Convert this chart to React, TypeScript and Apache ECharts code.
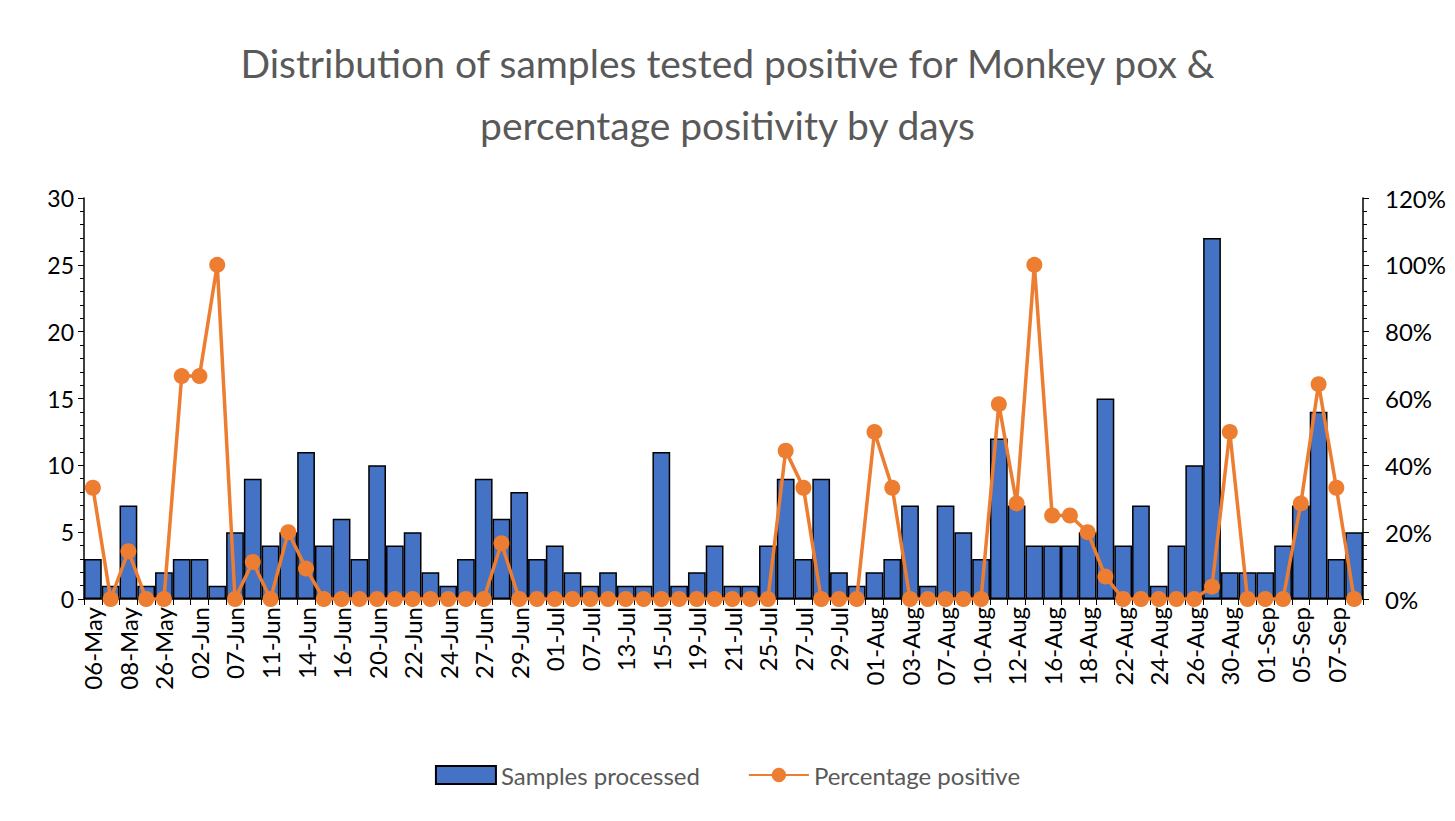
import React, { useEffect, useRef } from "react";
import * as echarts from "echarts";

const categories = [
  "06-May", "07-May", "08-May", "24-May", "26-May", "31-May", "02-Jun", "03-Jun",
  "07-Jun", "09-Jun", "11-Jun", "13-Jun", "14-Jun", "15-Jun", "16-Jun", "17-Jun",
  "20-Jun", "21-Jun", "22-Jun", "23-Jun", "24-Jun", "25-Jun", "27-Jun", "28-Jun",
  "29-Jun", "30-Jun", "01-Jul", "05-Jul", "07-Jul", "11-Jul", "13-Jul", "14-Jul",
  "15-Jul", "18-Jul", "19-Jul", "20-Jul", "21-Jul", "22-Jul", "25-Jul", "26-Jul",
  "27-Jul", "28-Jul", "29-Jul", "30-Jul", "01-Aug", "02-Aug", "03-Aug", "04-Aug",
  "07-Aug", "08-Aug", "10-Aug", "11-Aug", "12-Aug", "15-Aug", "16-Aug", "17-Aug",
  "18-Aug", "19-Aug", "22-Aug", "23-Aug", "24-Aug", "25-Aug", "26-Aug", "29-Aug",
  "30-Aug", "31-Aug", "01-Sep", "02-Sep", "05-Sep", "06-Sep", "07-Sep", "08-Sep",
];

const samplesProcessed = [
  3, 1, 7, 1, 2, 3, 3, 1, 5, 9, 4, 5, 11, 4, 6, 3,
  10, 4, 5, 2, 1, 3, 9, 6, 8, 3, 4, 2, 1, 2, 1, 1,
  11, 1, 2, 4, 1, 1, 4, 9, 3, 9, 2, 1, 2, 3, 7, 1,
  7, 5, 3, 12, 7, 4, 4, 4, 5, 15, 4, 7, 1, 4, 10, 27,
  2, 2, 2, 4, 7, 14, 3, 5,
];

const percentagePositive = [
  33.3, 0, 14.3, 0, 0, 66.7, 66.7, 100, 0, 11.1, 0, 20, 9.1, 0, 0, 0,
  0, 0, 0, 0, 0, 0, 0, 16.7, 0, 0, 0, 0, 0, 0, 0, 0,
  0, 0, 0, 0, 0, 0, 0, 44.4, 33.3, 0, 0, 0, 50, 33.3, 0, 0,
  0, 0, 0, 58.3, 28.6, 100, 25, 25, 20, 6.7, 0, 0, 0, 0, 0, 3.7,
  50, 0, 0, 0, 28.6, 64.3, 33.3, 0,
];

const FONT = "Lato, 'Open Sans', sans-serif";

export default function App() {
  const ref = useRef<HTMLDivElement>(null);

  useEffect(() => {
    document.body.style.margin = "0";
    if (!ref.current) return;
    const chart = echarts.init(ref.current, undefined, { renderer: "svg" });
    chart.setOption({
      animation: false,
      backgroundColor: "#ffffff",
      textStyle: { fontFamily: FONT },
      title: {
        text: "Distribution of samples tested positive for Monkey pox &\npercentage positivity by days",
        left: "center",
        top: 27,
        textStyle: {
          fontFamily: FONT,
          fontSize: 39,
          fontWeight: "normal",
          color: "#595959",
          lineHeight: 62,
        },
      },
      legend: {
        top: 758,
        left: "center",
        itemGap: 48,
        itemWidth: 60,
        itemHeight: 18,
        textStyle: { fontFamily: FONT, fontSize: 24, color: "#595959" },
        data: [
          { name: "Samples processed", icon: "rect" },
          { name: "Percentage positive" },
        ],
      },
      grid: { left: 84, right: 92, top: 198, bottom: 222, containLabel: false },
      xAxis: {
        type: "category",
        data: categories,
        boundaryGap: true,
        axisLine: { lineStyle: { color: "#000", width: 1.5 } },
        axisTick: { show: true, interval: 0, length: 6, lineStyle: { color: "#000" } },
        axisLabel: {
          interval: 1,
          rotate: 90,
          fontFamily: FONT,
          fontSize: 24,
          color: "#000",
          margin: 8,
        },
      },
      yAxis: [
        {
          type: "value",
          min: 0,
          max: 30,
          interval: 5,
          splitLine: { show: false },
          axisLine: { show: true, lineStyle: { color: "#000", width: 1.5 } },
          axisTick: { show: true, length: 6, lineStyle: { color: "#000" } },
          minorTick: { show: true, splitNumber: 5, length: 4, lineStyle: { color: "#000" } },
          axisLabel: { fontFamily: FONT, fontSize: 23, color: "#000", margin: 10 },
        },
        {
          type: "value",
          min: 0,
          max: 120,
          interval: 20,
          position: "right",
          splitLine: { show: false },
          axisLine: { show: true, lineStyle: { color: "#000", width: 1.5 } },
          axisTick: { show: true, length: 6, lineStyle: { color: "#000" } },
          minorTick: { show: true, splitNumber: 5, length: 4, lineStyle: { color: "#000" } },
          axisLabel: {
            fontFamily: FONT,
            fontSize: 24,
            color: "#000",
            margin: 22,
            formatter: "{value}%",
          },
        },
      ],
      series: [
        {
          name: "Samples processed",
          type: "bar",
          data: samplesProcessed,
          barCategoryGap: "0%",
          itemStyle: { color: "#4472C4", borderColor: "#000", borderWidth: 1.5 },
        },
        {
          name: "Percentage positive",
          type: "line",
          yAxisIndex: 1,
          data: percentagePositive,
          symbol: "circle",
          symbolSize: 16,
          showAllSymbol: true,
          lineStyle: { color: "#ED7D31", width: 3.5 },
          itemStyle: { color: "#ED7D31" },
          z: 5,
        },
      ],
    });
    return () => chart.dispose();
  }, []);

  return <div ref={ref} style={{ width: 1455, height: 821 }} />;
}
